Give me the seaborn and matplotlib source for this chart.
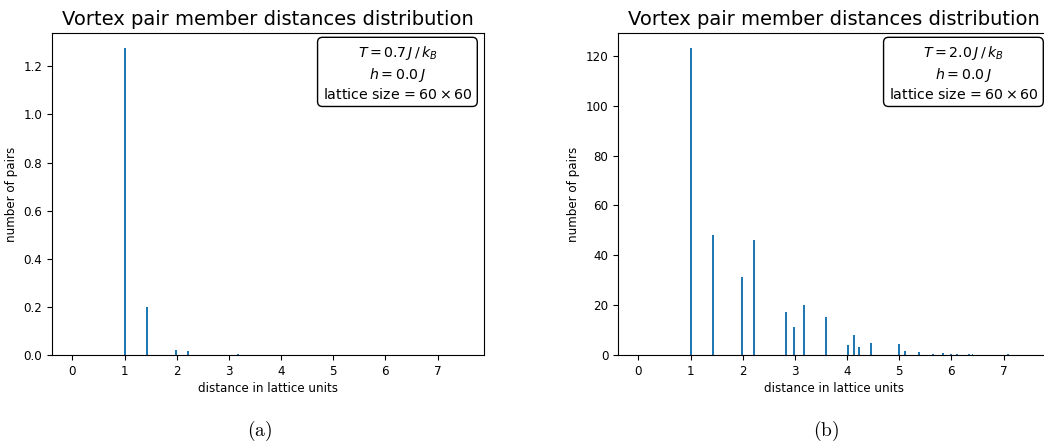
import numpy as np
import matplotlib
matplotlib.use("Agg")
import matplotlib.pyplot as plt
import seaborn as sns
import pandas as pd

plt.rcParams['mathtext.fontset'] = 'dejavusans'

# distances (sqrt of integer squared lattice separations)
dist_a = [1.0, 1.414, 2.0, 2.236, 3.162]
count_a = [1.275, 0.20, 0.022, 0.017, 0.003]

dist_b = [1.0, 1.414, 2.0, 2.236, 2.828, 3.0, 3.162, 3.606, 4.0, 4.123, 4.243,
          4.472, 5.0, 5.099, 5.385, 5.657, 5.831, 6.0, 6.083, 6.325, 6.403,
          6.708, 7.071]
count_b = [123.0, 48.0, 31.3, 46.0, 17.3, 11.3, 20.1, 15.2, 4.1, 7.9, 3.3,
           4.8, 4.5, 1.7, 1.3, 0.5, 0.7, 0.3, 0.3, 0.3, 0.3, 0.2, 0.3]

temps = ["0.7", "2.0"]
captions = ["(a)", "(b)"]
caption_x = [260, 826]
title = "Vortex pair member distances distribution"
xlabel = "distance in lattice units"
ylabel = "number of pairs"

fig = plt.figure(figsize=(10.44, 4.44), dpi=100)
W, H = 1044, 444
ax_a = fig.add_axes([52 / W, 1 - 355 / H, 432 / W, 322 / H])
ax_b = fig.add_axes([618 / W, 1 - 355 / H, 432 / W, 322 / H])

for ax, d, c, T, cap, cx in [(ax_a, dist_a, count_a, temps[0], captions[0], caption_x[0]),
                             (ax_b, dist_b, count_b, temps[1], captions[1], caption_x[1])]:
    df = pd.DataFrame({"distance": d, "count": c})
    sns.histplot(data=df, x="distance", weights="count", binwidth=0.038,
                 binrange=(0.0, 7.45), color="#1f77b4", alpha=1.0,
                 linewidth=0, ax=ax)
    ax.set_xlim(-0.39, 7.89)
    ax.set_ylim(0, max(c) * 1.05)
    ax.set_xticks(range(8))
    ax.set_title(title, fontsize=14, pad=6)
    ax.set_xlabel(xlabel, fontsize=8.6, labelpad=3)
    ax.set_ylabel(ylabel, fontsize=8.6)
    ax.tick_params(labelsize=8.6)
    txt = (r"$T = %s\,J\,/\,k_B$" % T + "\n" + r"$h = 0.0\,J$" + "\n"
           + r"lattice size$\,=60\times 60$")
    ax.text(0.973, 0.965, txt, transform=ax.transAxes, ha="right", va="top",
            fontsize=10.2, multialignment="center", linespacing=1.25,
            bbox=dict(boxstyle="round,pad=0.35", facecolor="white",
                      edgecolor="black"))
    fig.text(cx / W, 1 - 431 / H, r"$\mathrm{%s}$" % cap,
             fontsize=14, ha="center", va="center", math_fontfamily="cm")

fig.savefig("out.png", dpi=100)
